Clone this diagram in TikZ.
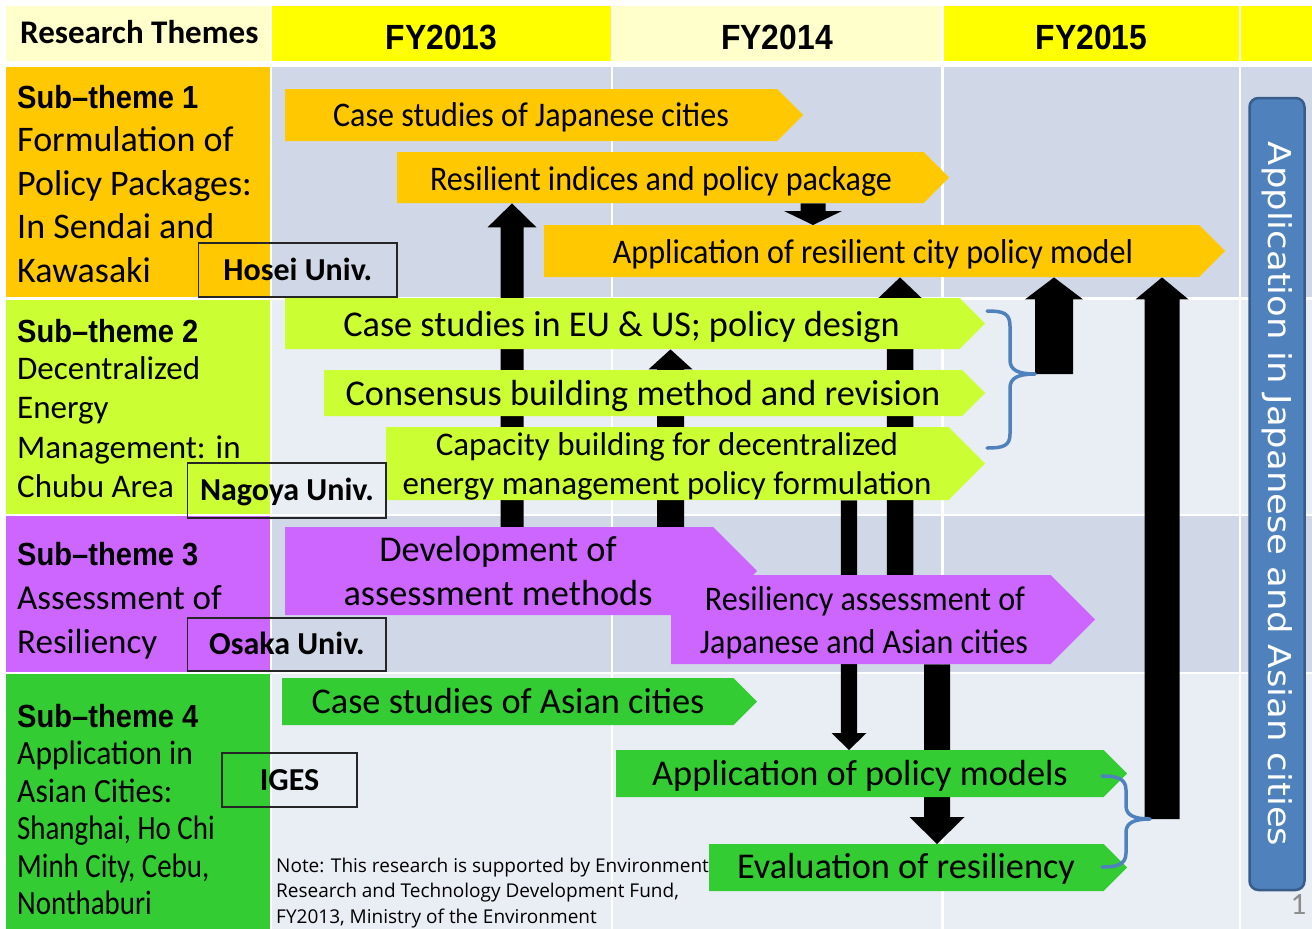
\documentclass[tikz,border=0pt]{standalone}
\usepackage{fontspec}
\setmainfont{Carlito}
\newfontfamily\cond[FakeStretch=0.93]{Carlito}
\newfontfamily\condx[FakeStretch=0.85]{Carlito}
\newfontfamily\goth[FakeStretch=0.91]{Liberation Sans}
\newfontfamily\notef{Open Sans}
\newfontfamily\vertf[FakeStretch=1.125]{DejaVu Sans}
\usetikzlibrary{calc}
\pgfdeclarelayer{bg}
\pgfdeclarelayer{arr}
\pgfsetlayers{bg,arr,main}
\definecolor{hdrY}{HTML}{FFFF00}
\definecolor{hdrL}{HTML}{FFFFCC}
\definecolor{gridD}{HTML}{D0D8E8}
\definecolor{gridL}{HTML}{E9EDF4}
\definecolor{orng}{HTML}{FFC800}
\definecolor{lime}{HTML}{CCFF33}
\definecolor{purp}{HTML}{CC66FF}
\definecolor{grn}{HTML}{33CC33}
\definecolor{braceC}{HTML}{4F81BD}
\definecolor{vbox}{HTML}{4F81BD}
\definecolor{vboxB}{HTML}{385D8A}
\definecolor{pgnum}{HTML}{8C8C8C}
% pentagon arrow: name, x1, y1, xtip, y2, colour
\newcommand\pent[6]{%
  \fill[#6] (#2,#3) -- ({#4-(#5-#3)/2},#3) -- (#4,{(#3+#5)/2}) -- ({#4-(#5-#3)/2},#5) -- (#2,#5) -- cycle;
  \node[inner sep=0, minimum width={#4-#2-(#5-#3)/2}, minimum height={#5-#3}, anchor=north west] (#1) at (#2,#3) {};}
% fat arrows: x, from, to, shaft width, head width, head length
\newcommand\arrup[6]{%
  \fill[fatarr] let \p1=(#1,0 |- #2), \p2=(#1,0 |- #3) in
  ({\x1-#4pt/2},\y1) -- ({\x1-#4pt/2},{\y2-#6pt}) -- ({\x1-#5pt/2},{\y2-#6pt}) -- (\x1,\y2)
  -- ({\x1+#5pt/2},{\y2-#6pt}) -- ({\x1+#4pt/2},{\y2-#6pt}) -- ({\x1+#4pt/2},\y1) -- cycle;}
\newcommand\arrdn[6]{%
  \fill[fatarr] let \p1=(#1,0 |- #2), \p2=(#1,0 |- #3) in
  ({\x1-#4pt/2},\y1) -- ({\x1-#4pt/2},{\y2+#6pt}) -- ({\x1-#5pt/2},{\y2+#6pt}) -- (\x1,\y2)
  -- ({\x1+#5pt/2},{\y2+#6pt}) -- ({\x1+#4pt/2},{\y2+#6pt}) -- ({\x1+#4pt/2},\y1) -- cycle;}
\tikzset{
  fatarr/.style={fill=black},
  tcond/.style={inner sep=0, anchor=base, font=\cond\fontsize{34.5}{43}\selectfont},
  tnorm/.style={inner sep=0, anchor=base, font=\fontsize{36.3}{43}\selectfont},
  hdr/.style={inner sep=0, font=\goth\bfseries\fontsize{35}{40}\selectfont},
  lefttxt/.style={inner sep=0, anchor=north west, align=left},
  unibox/.style={draw=black!85, line width=1.2pt, inner sep=0, text height=20.6pt, text depth=0pt,
    font=\bfseries\fontsize{32}{36}\selectfont},
  bracestyle/.style={draw=braceC, line width=3.5pt, line cap=round, line join=round},
}
\newcommand\subtitle[1]{{\goth\bfseries\fontsize{32}{40}\selectfont #1}}
\begin{document}
\begin{tikzpicture}[x=1pt,y=-1pt]
\useasboundingbox (0,0) rectangle (1312,929);
\begin{pgfonlayer}{bg}
\fill[white] (0,0) rectangle (1312,929);
% header
\fill[hdrL] (6,6) rectangle (270,61);
\fill[hdrY] (272,6) rectangle (611,61);
\fill[hdrL] (613,6) rectangle (941,61);
\fill[hdrY] (944,6) rectangle (1239,61);
\fill[hdrY] (1241,6) rectangle (1312,61);
% grid
\foreach \ya/\yb/\c in {67/297/gridD, 300/514/gridL, 516/672/gridD, 674/929/gridL}{
  \fill[\c] (272,\ya) rectangle (611,\yb);
  \fill[\c] (613,\ya) rectangle (941,\yb);
  \fill[\c] (944,\ya) rectangle (1239,\yb);
  \fill[\c] (1241,\ya) rectangle (1312,\yb);
}
% left cells
\fill[orng] (6,67) rectangle (270,297);
\fill[lime] (6,300) rectangle (270,514);
\fill[purp] (6,516) rectangle (270,672);
\fill[grn] (6,674) rectangle (270,929);
\end{pgfonlayer}
% header texts
\node[inner sep=0, anchor=base west, font=\bfseries\fontsize{33}{36}\selectfont] (rt) at (20,43) {Research Themes};
\node[hdr] (fy13) at (441.5,37.5) {FY2013};
\node[hdr] (fy14) at (777,37.5) {FY2014};
\node[hdr] (fy15) at (1091.5,37.5) {FY2015};
% left texts
\node[lefttxt, font=\fontsize{36}{43.5}\selectfont] (l1) at (17,85)
  {\subtitle{Sub–theme 1}\\Formulation of\\Policy Packages:\\In Sendai and\\Kawasaki};
\node[lefttxt, font=\fontsize{33}{39.5}\selectfont] (l2) at (17,319)
  {\subtitle{Sub–theme 2}\\[-2.5pt]Decentralized\\Energy\\Management: in\\Chubu Area};
\node[lefttxt, font=\fontsize{35}{44}\selectfont] (l3) at (17,542)
  {\subtitle{Sub–theme 3}\\Assessment of\\Resiliency};
\node[lefttxt, font=\cond\fontsize{34}{37.5}\selectfont] (l4) at (17,704)
  {\subtitle{Sub–theme 4}\\Application in\\Asian Cities:\\{\condx Shanghai, Ho Chi}\\{\condx Minh City, Cebu,}\\{\condx Nonthaburi}};
% note
\node[lefttxt, font=\notef\fontsize{19}{25.8}\selectfont] (note) at (276,857.5)
  {Note: This research is supported by Environment\\Research and Technology Development Fund,\\FY2013, Ministry of the Environment};
% coloured arrows
\pent{cj}{285}{89}{803}{141}{orng}
\pent{ri}{397}{152}{949}{203}{orng}
\pent{ap}{544}{225}{1225}{277}{orng}
\pent{eu}{285}{298}{985}{349}{lime}
\pent{cb}{324}{370}{985}{416}{lime}
\pent{cap}{386}{427}{985}{500}{lime}
\pent{dev}{285}{527}{757}{615}{purp}
\pent{res}{671}{575}{1095}{664}{purp}
\pent{ca}{282}{678}{757}{725}{grn}
\pent{apm}{616}{750}{1127}{797}{grn}
\pent{ev}{709}{844}{1127}{891}{grn}
% brace tips
\coordinate (b1tip) at (1035,374);
\coordinate (b2tip) at (1150,819);
% black arrows, behind the coloured arrows
\begin{pgfonlayer}{arr}
\arrup{512}{dev.north}{ri.south}{23}{49}{24}
\arrup{670.5}{dev.north}{eu.south}{27}{44}{20}
\arrup{900}{res.north}{ap.south}{26.5}{46}{22}
\arrdn{849}{cap.south}{apm.north}{16.4}{35}{17}
\arrdn{937}{res.south}{ev.north}{26}{55}{27}
\arrdn{813}{ri.south}{ap.north}{25}{58}{14}
\arrup{1054}{b1tip}{ap.south}{38}{58}{22}
\arrup{1162}{b2tip}{ap.south}{35}{53}{22}
\end{pgfonlayer}
% texts
\node[tcond] (tcj) at (531,126.7) {Case studies of Japanese cities};
\node[tcond] (tri) at (661,190) {Resilient indices and policy package};
\node[tcond] (tap) at (873,263) {Application of resilient city policy model};
\node[tnorm] (teu) at (621.5,336.7) {Case studies in EU \& US; policy design};
\node[tnorm] (tcb) at (643,405) {Consensus building method and revision};
\node[tnorm, font=\fontsize{33}{40}\selectfont] (tcap1) at (667,455.7) {Capacity building for decentralized};
\node[tnorm, font=\fontsize{33}{40}\selectfont] (tcap2) at (667,494) {energy management policy formulation};
\node[tnorm] (tdev1) at (498,561.7) {Development of};
\node[tnorm] (tdev2) at (498,605) {assessment methods};
\node[tcond] (tres1) at (865,610) {Resiliency assessment of};
\node[tcond] (tres2) at (864,653) {Japanese and Asian cities};
\node[tnorm] (tca) at (508,713) {Case studies of Asian cities};
\node[tnorm] (tapm) at (860,785) {Application of policy models};
\node[tnorm] (tev) at (906,878) {Evaluation of resiliency};
% university boxes
\node[unibox, minimum width=198.4, minimum height=54] (hosei) at (297.8,270) {Hosei Univ.};
\node[unibox, minimum width=198.3, minimum height=55] (nagoya) at (286.9,490.5) {Nagoya Univ.};
\node[unibox, minimum width=198.3, minimum height=53] (osaka) at (286.9,644.5) {Osaka Univ.};
\node[unibox, minimum width=135, minimum height=54] (iges) at (289.5,780) {IGES};
% braces
\draw[bracestyle] (987,311) .. controls (1003,311) and (1010,313) .. (1010,326) -- (1010,360)
  .. controls (1010,370) and (1018,374) .. (b1tip)
  .. controls (1018,374) and (1010,378) .. (1010,388) -- (1010,434)
  .. controls (1010,446) and (1003,448) .. (987,448);
\draw[bracestyle] (1102,776) .. controls (1116,776) and (1126,778) .. (1126,790) -- (1126,806)
  .. controls (1126,815) and (1134,819) .. (b2tip)
  .. controls (1134,819) and (1126,823) .. (1126,832) -- (1126,853)
  .. controls (1126,865) and (1116,867) .. (1102,867);
% vertical box
\node[draw=vboxB, fill=vbox, line width=2.5pt, rounded corners=9pt, inner sep=0,
  minimum width=55, minimum height=792] (vb) at (1277,494) {};
\node[inner sep=0, rotate=-90, text=white, font=\vertf\fontsize{31.5}{36}\selectfont] (vt) at (vb.center)
  {Application in Japanese and Asian cities};
% page number
\node[inner sep=0, text=pgnum, font=\fontsize{31}{34}\selectfont] (pg) at (1298.5,905) {1};
\end{tikzpicture}
\end{document}
